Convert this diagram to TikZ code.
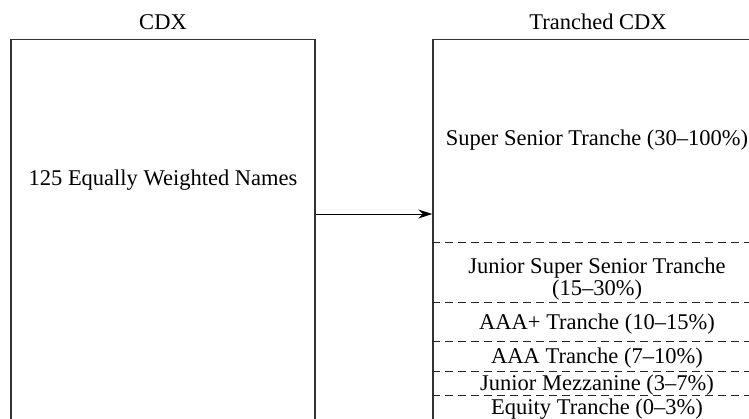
\documentclass[tikz,border=0pt]{standalone}
\usepackage{fontspec}
\setmainfont{Liberation Serif}
\usetikzlibrary{arrows.meta, positioning}

\begin{document}
\begin{tikzpicture}[x=1pt, y=-1pt, >={Stealth[length=14pt, width=9pt]},
    font=\fontsize{22.5}{18.5}\selectfont,
    khung/.style={draw=black!80, line width=1.4pt, minimum height=400pt},
    chu/.style={anchor=base, inner sep=0pt},
    cat/.style={dashed, dash pattern=on 8pt off 5pt, line width=0.9pt, draw=black!85}]
    \useasboundingbox (0,0) rectangle (749,418);

    % Hai khung
    \node[khung, minimum width=304pt] (cdx) at (163,239.75) {};
    \node[khung, minimum width=328pt] (tcdx) at (597,239.75) {};
    \node[chu] (cdxten) at (163,29) {CDX};
    \node[chu] (tcdxten) at (598,29) {Tranched CDX};
    \node[chu] (ten) at (163,185) {125 Equally Weighted Names};

    % Mui ten
    \draw[->, line width=0.9pt] (cdx.east |- 0,214) -- (tcdx.west |- 0,214);

    % Cac duong cat
    \foreach \y in {242.7, 302.7, 341, 371.7, 395.7} {
        \draw[cat] (tcdx.west |- 0,\y) -- (tcdx.east |- 0,\y);
    }

    % Cac lop
    \node[chu] (sst) at (597,145) {Super Senior Tranche (30--100\%)};
    \node[chu, align=center] (jsst) at (597,295) {Junior Super Senior Tranche\\(15--30\%)};
    \node[chu] (aaap) at (597,329.5) {AAA+ Tranche (10--15\%)};
    \node[chu] (aaa) at (597,363) {AAA Tranche (7--10\%)};
    \node[chu] (jm) at (597,390) {Junior Mezzanine (3--7\%)};
    \node[chu] (eq) at (597,414) {Equity Tranche (0--3\%)};
\end{tikzpicture}
\end{document}
